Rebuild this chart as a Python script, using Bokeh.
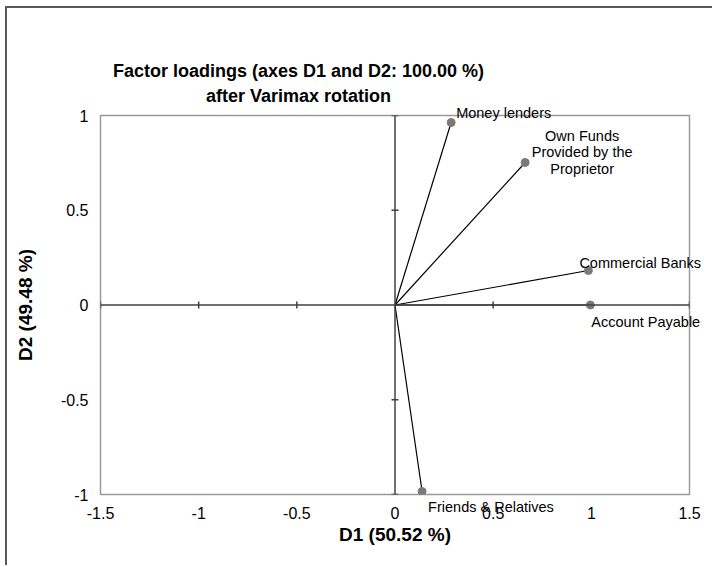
import math
from bokeh.plotting import figure
from bokeh.models import Label, Span, FixedTicker
from bokeh.embed import file_html
from bokeh.resources import INLINE

# ---------------- data ----------------
factors = ["Money lenders", "Own Funds\nProvided by the\nProprietor",
           "Commercial Banks", "Account Payable", "Friends & Relatives"]
d1 = [0.286, 0.663, 0.985, 0.995, 0.138]
d2 = [0.963, 0.752, 0.182, 0.000, -0.984]

x_ticks = [-1.5, -1, -0.5, 0, 0.5, 1, 1.5]
x_tick_labels = ["-1.5", "-1", "-0.5", "0", "0.5", "1", "1.5"]
y_ticks = [-1, -0.5, 0, 0.5, 1]
y_tick_labels = ["-1", "-0.5", "0", "0.5", "1"]

title_lines = ["Factor loadings (axes D1 and D2: 100.00 %)", "after Varimax rotation"]
x_label = "D1 (50.52 %)"
y_label = "D2 (49.48 %)"

# ---------------- styles ----------------
FONT = "Liberation Sans"
label_style = [  # (align, x_offset, y_offset [up], place)
    ("left", 5, 10, "above"),
    ("center", 57, 10, "center"),
    ("left", -9, 8, "above"),
    ("left", 1, -17, "above"),
    ("left", 6, -16, "above"),
]
X0, X1 = -1.5, 1.5
Y0, Y1 = -1.0, 1.0
FRAME_W, FRAME_H = 589, 379

p = figure(width=707, height=559, x_range=(X0, X1), y_range=(Y0, Y1),
           output_backend="svg", toolbar_location=None,
           min_border_left=93, min_border_right=25,
           min_border_top=107, min_border_bottom=73)
p.styles = {"margin-left": "5px", "margin-top": "6px",
            "border-left": "2px solid #5a5a5a", "border-top": "2px solid #5a5a5a"}
p.background_fill_color = "white"
p.border_fill_color = "white"
p.outline_line_color = "#9a9a9a"
p.outline_line_width = 1.5
p.xgrid.visible = False
p.ygrid.visible = False

for ax in (p.xaxis, p.yaxis):
    ax.axis_line_color = None
    ax.major_tick_line_color = None
    ax.minor_tick_line_color = None
    ax.major_tick_out = 0
    ax.major_tick_in = 0
    ax.minor_tick_out = 0
    ax.major_label_text_font = FONT
    ax.major_label_text_font_size = "16px"
    ax.major_label_text_color = "black"
    ax.axis_label_text_font = FONT
    ax.axis_label_text_font_size = "19px"
    ax.axis_label_text_font_style = "bold"
    ax.axis_label_text_color = "black"
    ax.major_label_standoff = 12

p.xaxis.ticker = FixedTicker(ticks=x_ticks)
p.xaxis.major_label_overrides = {t: s for t, s in zip(x_ticks, x_tick_labels)}
p.yaxis.ticker = FixedTicker(ticks=y_ticks)
p.yaxis.major_label_overrides = {t: s for t, s in zip(y_ticks, y_tick_labels)}
p.xaxis.axis_label = x_label
p.yaxis.axis_label = y_label
p.xaxis.axis_label_standoff = 2
p.yaxis.axis_label_standoff = 22

# zero lines with tick marks
p.add_layout(Span(location=0, dimension="width", line_color="#404040", line_width=1.5))
p.add_layout(Span(location=0, dimension="height", line_color="#404040", line_width=1.5))
xt = [t for t in x_ticks if t != 0]
yt = [t for t in y_ticks if t != 0]
p.scatter(xt, [0] * len(xt), marker="dash", angle=math.pi / 2, size=7,
          line_color="#404040", line_width=1.5)
p.scatter([0] * len(yt), yt, marker="dash", size=7,
          line_color="#404040", line_width=1.5)

# vectors
p.segment(x0=[0] * len(d1), y0=[0] * len(d2), x1=d1, y1=d2,
          line_color="black", line_width=1.2)
p.scatter(d1, d2, size=8, fill_color="#7a7a7a", line_color="#7a7a7a")

# labels that reach outside the frame go in a side panel (not clipped there)
for name, x, y, (al, xo, yo, place) in zip(factors, d1, d2, label_style):
    lh = 1.05 if "\n" in name else 0.8
    p.add_layout(Label(x=x, y=y, text=name, x_offset=xo, y_offset=yo,
                       text_align=al, text_baseline="middle",
                       text_font=FONT, text_font_size="14.5px",
                       text_color="black", text_line_height=lh), place)

# title (two lines), positioned via the data scales from frame pixels
def sx(px):
    return X0 + px / FRAME_W * (X1 - X0)

def sy(px_above_top):
    return Y1 + px_above_top / FRAME_H * (Y1 - Y0)

title_pos = [(198, 45), (198, 20)]
for line, (tx, ty) in zip(title_lines, title_pos):
    p.add_layout(Label(x=sx(tx), y=sy(ty), text=line, text_align="center",
                       text_baseline="middle", text_font=FONT,
                       text_font_size="18px", text_font_style="bold",
                       text_color="black", text_line_height=0.8), "above")

open("out.html", "w").write(file_html(p, INLINE))
